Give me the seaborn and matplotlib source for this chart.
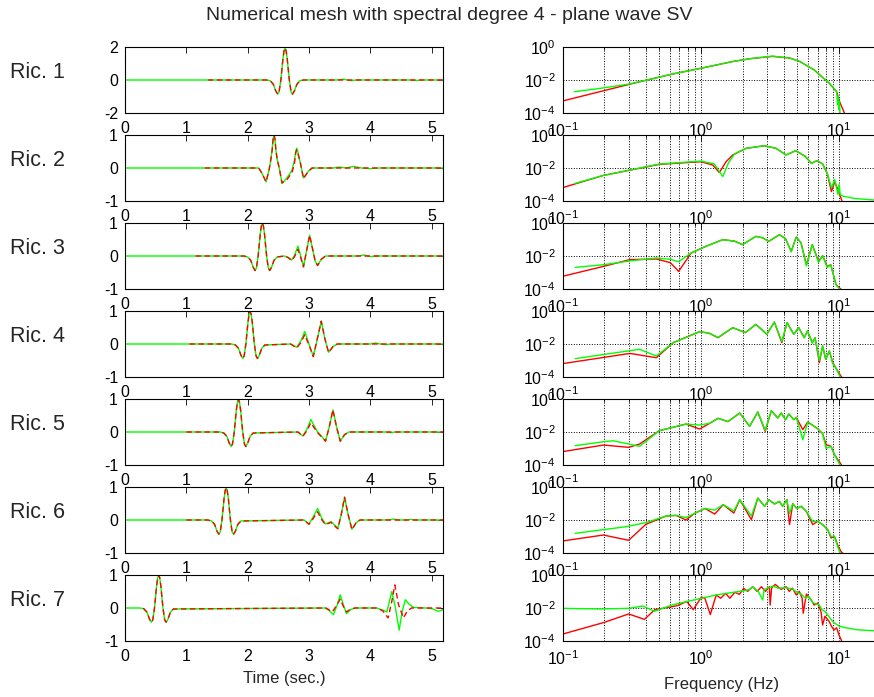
import numpy as np
import matplotlib
matplotlib.use("Agg")
import matplotlib.pyplot as plt
import seaborn as sns
from matplotlib.ticker import NullFormatter, FixedLocator, NullLocator

# ---------------- data: time histories (seconds, amplitude) ----------------
g1_t = [0, 2.31, 2.37, 2.418, 2.458, 2.49, 2.513, 2.541, 2.558, 2.575, 2.593, 2.61, 2.627, 2.645, 2.662, 2.679, 2.707, 2.73, 2.762, 2.803, 2.85, 2.91, 3.45, 3.56, 3.67, 3.78, 4.65, 4.75, 4.85, 5.185]
g1_v = [0, 0, -0.05, -0.26, -0.66, -0.86, -0.70, 0, 0.64, 1.28, 1.77, 1.94, 1.77, 1.28, 0.64, 0, -0.70, -0.86, -0.66, -0.26, -0.05, 0, 0, 0.05, -0.04, 0, 0, -0.03, 0, 0]
r1_t = [1.35, 2.31, 2.37, 2.418, 2.458, 2.49, 2.513, 2.541, 2.558, 2.575, 2.593, 2.61, 2.627, 2.645, 2.662, 2.679, 2.707, 2.73, 2.762, 2.803, 2.85, 2.91, 5.185]
r1_v = [0, 0, -0.05, -0.26, -0.66, -0.86, -0.70, 0, 0.64, 1.28, 1.77, 1.94, 1.77, 1.28, 0.64, 0, -0.70, -0.86, -0.66, -0.26, -0.05, 0, 0]

g2_t = [0, 2.18, 2.23, 2.30, 2.35, 2.38, 2.40, 2.415, 2.43, 2.445, 2.46, 2.48, 2.52, 2.56, 2.64, 2.72, 2.76, 2.785, 2.80, 2.815, 2.86, 2.91, 2.99, 3.05, 3.40, 3.49, 3.60, 3.73, 3.85, 4.00, 4.15, 5.185]
g2_v = [0, 0, -0.15, -0.42, -0.05, 0.28, 0.55, 0.88, 1.0, 0.88, 0.55, 0.28, -0.05, -0.47, -0.30, -0.08, 0.2, 0.52, 0.6, 0.52, 0.15, -0.30, -0.1, 0, 0, 0.03, 0, 0.05, 0, -0.02, 0, 0]
r2_t = [1.3, 2.18, 2.23, 2.30, 2.35, 2.38, 2.40, 2.415, 2.43, 2.445, 2.46, 2.48, 2.52, 2.56, 2.64, 2.72, 2.76, 2.785, 2.80, 2.815, 2.86, 2.91, 2.99, 3.05, 5.185]
r2_v = [0, 0, -0.15, -0.42, -0.05, 0.28, 0.55, 0.88, 1.0, 0.88, 0.55, 0.28, -0.05, -0.45, -0.35, -0.15, 0.1, 0.47, 0.55, 0.47, 0.15, -0.32, -0.1, 0, 0]

g3_t = [0, 1.94, 2.0, 2.05, 2.09, 2.12, 2.143, 2.171, 2.188, 2.205, 2.223, 2.24, 2.257, 2.275, 2.292, 2.309, 2.337, 2.36, 2.39, 2.43, 2.48, 2.60, 2.66, 2.72, 2.77, 2.82, 2.865, 2.91, 2.96, 3.01, 3.06, 3.10, 3.14, 3.20, 3.27, 3.80, 3.90, 4.00, 4.10, 5.185]
g3_v = [0, 0, -0.03, -0.13, -0.34, -0.44, -0.36, 0, 0.33, 0.66, 0.91, 1.0, 0.91, 0.66, 0.33, 0, -0.36, -0.44, -0.34, -0.13, -0.03, 0, -0.04, -0.12, 0.05, 0.30, 0.0, -0.32, 0.15, 0.63, 0.2, -0.15, -0.28, -0.1, 0, 0, 0.03, -0.02, 0, 0]
r3_t = [1.15, 1.94, 2.0, 2.05, 2.09, 2.12, 2.143, 2.171, 2.188, 2.205, 2.223, 2.24, 2.257, 2.275, 2.292, 2.309, 2.337, 2.36, 2.39, 2.43, 2.48, 2.60, 2.66, 2.72, 2.77, 2.82, 2.865, 2.91, 2.96, 3.01, 3.06, 3.10, 3.14, 3.20, 3.27, 5.185]
r3_v = [0, 0, -0.03, -0.13, -0.34, -0.44, -0.36, 0, 0.33, 0.66, 0.91, 1.0, 0.91, 0.66, 0.33, 0, -0.36, -0.44, -0.34, -0.13, -0.03, 0, -0.05, -0.14, 0.0, 0.20, -0.05, -0.33, 0.15, 0.63, 0.2, -0.15, -0.29, -0.1, 0, 0]

g4_t = [0, 1.74, 1.80, 1.85, 1.89, 1.92, 1.943, 1.971, 1.988, 2.005, 2.023, 2.04, 2.057, 2.075, 2.092, 2.109, 2.137, 2.16, 2.19, 2.23, 2.28, 2.70, 2.80, 2.87, 2.93, 3.00, 3.07, 3.135, 3.20, 3.26, 3.32, 3.39, 3.46, 4.00, 4.08, 4.16, 4.25, 4.33, 5.185]
g4_v = [0, 0, -0.03, -0.13, -0.34, -0.44, -0.36, 0, 0.33, 0.66, 0.90, 0.99, 0.90, 0.66, 0.33, 0, -0.36, -0.44, -0.34, -0.13, -0.03, 0, -0.1, 0.1, 0.38, 0.0, -0.37, 0.15, 0.69, 0.15, -0.25, -0.08, 0, 0, 0.03, 0, -0.02, 0, 0]
r4_t = [1.05, 1.74, 1.80, 1.85, 1.89, 1.92, 1.943, 1.971, 1.988, 2.005, 2.023, 2.04, 2.057, 2.075, 2.092, 2.109, 2.137, 2.16, 2.19, 2.23, 2.28, 2.70, 2.80, 2.87, 2.93, 3.00, 3.07, 3.135, 3.20, 3.26, 3.32, 3.39, 3.46, 5.185]
r4_v = [0, 0, -0.03, -0.13, -0.34, -0.44, -0.36, 0, 0.33, 0.66, 0.90, 0.99, 0.90, 0.66, 0.33, 0, -0.36, -0.44, -0.34, -0.13, -0.03, 0, -0.12, 0.05, 0.28, -0.03, -0.38, 0.15, 0.69, 0.15, -0.26, -0.08, 0, 0]

g5_t = [0, 1.55, 1.61, 1.66, 1.70, 1.73, 1.753, 1.781, 1.798, 1.815, 1.833, 1.85, 1.867, 1.885, 1.902, 1.919, 1.947, 1.97, 2.00, 2.04, 2.09, 2.82, 2.90, 2.97, 3.03, 3.13, 3.20, 3.27, 3.33, 3.39, 3.45, 3.51, 3.58, 3.65, 4.25, 4.33, 4.41, 5.185]
g5_v = [0, 0, -0.03, -0.13, -0.34, -0.44, -0.36, 0, 0.33, 0.66, 0.90, 0.99, 0.90, 0.66, 0.33, 0, -0.36, -0.44, -0.34, -0.13, -0.03, 0, -0.12, 0.1, 0.38, 0.03, -0.12, -0.27, 0.15, 0.67, 0.15, -0.27, -0.08, 0, 0, -0.02, 0, 0]
r5_t = [1.0, 1.55, 1.61, 1.66, 1.70, 1.73, 1.753, 1.781, 1.798, 1.815, 1.833, 1.85, 1.867, 1.885, 1.902, 1.919, 1.947, 1.97, 2.00, 2.04, 2.09, 2.82, 2.90, 2.97, 3.03, 3.13, 3.20, 3.27, 3.33, 3.39, 3.45, 3.51, 3.58, 3.65, 5.185]
r5_v = [0, 0, -0.03, -0.13, -0.34, -0.44, -0.36, 0, 0.33, 0.66, 0.90, 0.99, 0.90, 0.66, 0.33, 0, -0.36, -0.44, -0.34, -0.13, -0.03, 0, -0.13, 0.05, 0.28, 0.0, -0.14, -0.28, 0.15, 0.67, 0.15, -0.28, -0.08, 0, 0]

g6_t = [0, 1.35, 1.41, 1.46, 1.50, 1.53, 1.553, 1.581, 1.598, 1.615, 1.633, 1.65, 1.667, 1.685, 1.702, 1.719, 1.747, 1.77, 1.80, 1.84, 1.89, 2.92, 3.00, 3.07, 3.14, 3.21, 3.27, 3.36, 3.47, 3.53, 3.58, 3.64, 3.70, 3.77, 3.83, 4.30, 4.38, 4.46, 4.60, 4.66, 4.72, 5.185]
g6_v = [0, 0, -0.03, -0.13, -0.34, -0.43, -0.36, 0, 0.32, 0.65, 0.89, 0.98, 0.89, 0.65, 0.32, 0, -0.36, -0.43, -0.34, -0.13, -0.03, 0, -0.12, 0.1, 0.35, 0.05, -0.12, -0.05, -0.25, 0.2, 0.69, 0.15, -0.28, -0.08, 0, 0, 0.03, 0, 0, 0.02, 0, 0]
r6_t = [1.0, 1.35, 1.41, 1.46, 1.50, 1.53, 1.553, 1.581, 1.598, 1.615, 1.633, 1.65, 1.667, 1.685, 1.702, 1.719, 1.747, 1.77, 1.80, 1.84, 1.89, 2.92, 3.00, 3.07, 3.14, 3.21, 3.27, 3.36, 3.47, 3.53, 3.58, 3.64, 3.70, 3.77, 3.83, 5.185]
r6_v = [0, 0, -0.03, -0.13, -0.34, -0.43, -0.36, 0, 0.32, 0.65, 0.89, 0.98, 0.89, 0.65, 0.32, 0, -0.36, -0.43, -0.34, -0.13, -0.03, 0, -0.13, 0.05, 0.25, 0.0, -0.14, -0.07, -0.27, 0.2, 0.69, 0.15, -0.29, -0.08, 0, 0]

g7_t = [0, 0.25, 0.31, 0.36, 0.40, 0.43, 0.453, 0.481, 0.498, 0.515, 0.533, 0.55, 0.567, 0.585, 0.602, 0.619, 0.647, 0.67, 0.70, 0.74, 0.79, 3.26, 3.33, 3.40, 3.46, 3.51, 3.56, 3.61, 3.68, 3.75, 4.10, 4.21, 4.27, 4.35, 4.41, 4.47, 4.52, 4.57, 4.63, 4.70, 4.90, 5.00, 5.11, 5.185]
g7_v = [0, 0, -0.03, -0.13, -0.34, -0.43, -0.36, 0, 0.33, 0.66, 0.91, 1.0, 0.91, 0.66, 0.33, 0, -0.36, -0.43, -0.34, -0.13, -0.03, 0, -0.08, -0.2, 0.1, 0.4, 0.1, -0.17, -0.05, 0, 0, -0.07, -0.12, 0.5, 0.0, -0.67, -0.1, 0.25, 0.12, 0.02, 0, -0.02, -0.1, -0.05]
r7_t = [0.3, 0.31, 0.36, 0.40, 0.43, 0.453, 0.481, 0.498, 0.515, 0.533, 0.55, 0.567, 0.585, 0.602, 0.619, 0.647, 0.67, 0.70, 0.74, 0.79, 3.28, 3.38, 3.44, 3.51, 3.56, 3.61, 3.68, 3.75, 4.10, 4.20, 4.29, 4.35, 4.40, 4.46, 4.54, 4.60, 4.67, 5.185]
r7_v = [0, -0.03, -0.13, -0.34, -0.43, -0.36, 0, 0.33, 0.66, 0.91, 1.0, 0.91, 0.66, 0.33, 0, -0.36, -0.43, -0.34, -0.13, -0.03, 0, -0.12, 0.05, 0.27, 0.05, -0.12, -0.03, 0, 0, -0.08, -0.3, 0.2, 0.7, 0.1, -0.3, -0.1, 0, 0]

# ---------------- data: amplitude spectra (Hz, log10 amplitude) ----------------
sr1_f = [0.1, 0.2, 0.38, 0.63, 1.0, 1.7, 2.26, 3.3, 4.4, 5.2, 6.6, 8.5, 9.6, 10.1, 11.1]
sr1_a = [-3.27, -2.64, -2.06, -1.63, -1.29, -0.88, -0.71, -0.57, -0.67, -0.88, -1.39, -2.2, -2.71, -3.33, -4.14]
sg1_f = [0.121, 0.186, 0.3, 0.38, 0.63, 1.0, 1.7, 2.26, 3.3, 4.4, 5.2, 6.6, 8.5, 9.6, 9.75, 9.85, 9.95, 10.05, 10.15, 10.3]
sg1_a = [-2.71, -2.51, -2.25, -2.06, -1.63, -1.29, -0.88, -0.71, -0.55, -0.67, -0.88, -1.39, -2.2, -2.71, -3.5, -3.0, -3.8, -3.3, -4.0, -4.3]

sr2_f = [0.1, 0.197, 0.5, 1.0, 1.22, 1.36, 1.52, 1.70, 2.12, 2.87, 3.5, 4.13, 4.86, 5.7, 6.3, 6.9, 7.6, 8.2, 8.8, 9.3, 9.9, 10.6]
sr2_a = [-3.19, -2.45, -1.78, -1.62, -1.82, -2.28, -1.62, -1.21, -0.81, -0.65, -0.81, -1.21, -0.95, -1.3, -1.72, -1.56, -1.75, -2.32, -3.43, -2.83, -3.4, -4.1]
sg2_f = [0.123, 0.197, 0.5, 1.0, 1.25, 1.44, 1.58, 1.75, 2.12, 2.87, 3.5, 4.13, 4.86, 5.7, 6.3, 6.9, 7.6, 8.2, 8.8, 9.3, 9.8, 10.0, 10.2, 10.6, 13.0, 20.0]
sg2_a = [-2.93, -2.45, -1.76, -1.58, -1.75, -2.52, -1.7, -1.15, -0.81, -0.65, -0.81, -1.21, -0.95, -1.3, -1.72, -1.56, -1.75, -2.32, -3.2, -2.7, -3.6, -3.0, -3.64, -3.7, -3.85, -3.97]

sr3_f = [0.1, 0.197, 0.306, 0.476, 0.6, 0.69, 0.85, 1.09, 1.44, 1.75, 2.0, 2.5, 2.8, 3.1, 3.7, 4.1, 4.5, 4.9, 5.3, 5.8, 6.4, 7.1, 7.6, 8.2, 8.7, 9.5, 10.6]
sr3_a = [-3.23, -2.63, -2.22, -2.18, -2.4, -2.93, -1.82, -1.41, -1.01, -1.1, -1.31, -0.81, -0.9, -1.11, -0.71, -0.95, -1.72, -0.85, -1.2, -2.53, -1.31, -2.32, -1.98, -2.63, -2.53, -3.74, -4.1]
sg3_f = [0.123, 0.197, 0.306, 0.476, 0.6, 0.69, 0.85, 1.09, 1.44, 1.75, 2.0, 2.5, 2.8, 3.1, 3.7, 4.1, 4.5, 4.9, 5.3, 5.8, 6.4, 7.1, 7.6, 8.2, 8.7, 9.5, 10.3]
sg3_a = [-2.69, -2.53, -2.3, -2.12, -2.2, -2.35, -1.82, -1.41, -1.01, -1.1, -1.31, -0.81, -0.9, -1.11, -0.71, -0.95, -1.75, -0.85, -1.2, -2.6, -1.31, -2.4, -1.98, -2.7, -2.53, -3.74, -4.1]

sr4_f = [0.1, 0.306, 0.476, 0.63, 0.98, 1.15, 1.33, 1.7, 2.1, 2.5, 3.0, 3.4, 3.85, 4.2, 4.7, 5.1, 5.6, 5.9, 6.4, 6.7, 7.2, 7.6, 8.0, 8.5, 9.0, 9.6, 10.6]
sr4_a = [-3.19, -2.57, -2.83, -1.92, -1.25, -1.35, -1.62, -1.01, -1.31, -0.81, -1.41, -0.67, -1.92, -0.71, -1.41, -1.01, -1.62, -1.21, -1.92, -1.62, -3.13, -2.12, -2.93, -2.42, -3.13, -3.54, -4.1]
sg4_f = [0.123, 0.36, 0.476, 0.63, 0.98, 1.15, 1.33, 1.7, 2.1, 2.5, 3.0, 3.4, 3.85, 4.2, 4.7, 5.1, 5.6, 5.9, 6.4, 6.7, 7.2, 7.6, 8.0, 8.5, 9.0, 9.6, 10.3]
sg4_a = [-2.89, -2.32, -2.73, -1.92, -1.25, -1.35, -1.6, -1.01, -1.31, -0.81, -1.41, -0.67, -1.85, -0.71, -1.41, -1.01, -1.62, -1.21, -1.95, -1.62, -3.0, -2.12, -2.93, -2.42, -3.2, -3.54, -4.1]

sr5_f = [0.1, 0.197, 0.30, 0.36, 0.5, 0.78, 0.98, 1.16, 1.33, 1.57, 1.91, 2.25, 2.58, 2.92, 3.23, 3.6, 3.81, 4.1, 4.33, 4.7, 4.9, 5.46, 5.93, 6.45, 7.0, 7.6, 8.05, 8.75, 9.25, 10.0, 10.6]
sr5_a = [-3.19, -2.79, -2.93, -2.73, -1.92, -1.52, -1.82, -1.47, -1.17, -1.37, -0.85, -1.66, -0.79, -1.96, -0.71, -1.15, -0.85, -1.25, -0.91, -1.25, -1.11, -1.86, -1.39, -1.6, -1.8, -2.1, -2.77, -2.87, -3.37, -3.78, -4.1]
sg5_f = [0.123, 0.197, 0.232, 0.36, 0.5, 0.78, 0.98, 1.16, 1.33, 1.57, 1.91, 2.25, 2.58, 2.92, 3.23, 3.6, 3.81, 4.1, 4.33, 4.7, 4.9, 5.46, 5.93, 6.45, 7.0, 7.6, 8.05, 8.75, 9.25, 10.0, 10.3]
sg5_a = [-2.83, -2.59, -2.53, -2.87, -1.92, -1.52, -1.58, -1.47, -1.17, -1.37, -0.85, -1.66, -0.79, -1.9, -0.71, -1.15, -0.85, -1.25, -0.91, -1.25, -1.11, -2.46, -1.39, -1.6, -1.8, -2.1, -3.0, -2.87, -3.37, -3.9, -4.1]

sr6_f = [0.1, 0.197, 0.30, 0.40, 0.56, 0.66, 0.78, 0.9, 1.07, 1.26, 1.45, 1.73, 1.91, 2.32, 2.58, 2.89, 3.1, 3.41, 3.7, 3.9, 4.19, 4.38, 4.62, 4.93, 5.32, 5.78, 6.45, 7.0, 7.6, 8.28, 8.75, 9.25, 9.75, 10.3, 10.9]
sr6_a = [-3.27, -2.91, -3.23, -2.26, -1.76, -1.72, -2.0, -1.6, -1.3, -1.64, -1.07, -1.58, -0.77, -1.98, -0.67, -1.17, -0.77, -1.03, -0.87, -1.17, -0.77, -2.28, -1.01, -1.3, -1.17, -1.47, -2.28, -2.08, -2.28, -2.59, -3.09, -2.99, -3.5, -3.9, -4.1]
sg6_f = [0.123, 0.29, 0.40, 0.56, 0.66, 0.78, 0.9, 1.07, 1.26, 1.45, 1.73, 1.91, 2.32, 2.58, 2.89, 3.1, 3.41, 3.7, 3.9, 4.19, 4.38, 4.62, 4.93, 5.32, 5.78, 6.45, 7.0, 7.6, 8.28, 8.75, 9.25, 9.75, 10.3]
sg6_a = [-2.81, -2.4, -2.16, -1.76, -1.72, -1.85, -1.6, -1.3, -1.4, -1.07, -1.45, -0.77, -1.75, -0.67, -1.17, -0.77, -1.03, -0.87, -1.17, -0.77, -1.6, -1.01, -1.3, -1.17, -1.47, -2.1, -2.08, -2.28, -2.59, -3.0, -2.99, -3.6, -4.1]

sr7_f = [0.1, 0.2, 0.3, 0.39, 0.464, 0.6, 0.68, 0.79, 0.88, 1.01, 1.07, 1.17, 1.29, 1.39, 1.51, 1.62, 1.76, 1.9, 2.04, 2.18, 2.37, 2.55, 2.74, 2.93, 3.13, 3.17, 3.25, 3.45, 3.81, 4.14, 4.35, 4.6, 4.9, 5.15, 5.4, 5.5, 5.8, 6.28, 6.6, 7.0, 7.4, 7.6, 7.9, 8.5, 8.8, 9.2, 9.6, 10.0, 10.7]
sr7_a = [-3.58, -2.87, -2.36, -2.69, -2.1, -1.94, -1.85, -1.6, -2.1, -1.33, -1.42, -2.4, -1.21, -1.41, -1.11, -1.41, -1.05, -1.17, -0.81, -0.99, -0.71, -0.99, -0.71, -0.99, -0.71, -1.82, -0.78, -0.57, -0.87, -0.71, -0.99, -0.8, -1.21, -0.99, -1.41, -2.32, -1.15, -1.51, -1.82, -1.7, -2.23, -3.03, -2.5, -2.83, -3.1, -3.33, -3.2, -3.65, -4.2]
sg7_f = [0.1, 0.186, 0.3, 0.38, 0.46, 0.63, 0.96, 1.29, 1.72, 2.24, 2.37, 2.6, 2.8, 2.87, 3.13, 3.3, 3.45, 3.6, 4.14, 4.6, 5.0, 5.35, 5.7, 6.0, 6.45, 6.8, 7.2, 7.5, 7.9, 8.4, 9.0, 9.6, 10.0, 11.2, 13.9, 20.0]
sg7_a = [-2.02, -2.06, -2.02, -1.88, -2.2, -1.8, -1.45, -1.21, -1.05, -0.89, -0.72, -0.99, -1.51, -0.87, -0.77, -0.67, -0.72, -0.8, -0.77, -0.85, -1.07, -1.17, -1.41, -1.3, -1.67, -1.75, -1.82, -2.1, -2.2, -2.5, -2.83, -3.0, -3.1, -3.2, -3.33, -3.4]

row_labels = ["Ric. 1", "Ric. 2", "Ric. 3", "Ric. 4", "Ric. 5", "Ric. 6", "Ric. 7"]
time_green = [(g1_t, g1_v), (g2_t, g2_v), (g3_t, g3_v), (g4_t, g4_v), (g5_t, g5_v), (g6_t, g6_v), (g7_t, g7_v)]
time_red = [(r1_t, r1_v), (r2_t, r2_v), (r3_t, r3_v), (r4_t, r4_v), (r5_t, r5_v), (r6_t, r6_v), (r7_t, r7_v)]
spec_red = [(sr1_f, sr1_a), (sr2_f, sr2_a), (sr3_f, sr3_a), (sr4_f, sr4_a), (sr5_f, sr5_a), (sr6_f, sr6_a), (sr7_f, sr7_a)]
spec_green = [(sg1_f, sg1_a), (sg2_f, sg2_a), (sg3_f, sg3_a), (sg4_f, sg4_a), (sg5_f, sg5_a), (sg6_f, sg6_a), (sg7_f, sg7_a)]

# ---------------- style ----------------
sns.set_theme(style="white")
plt.rcParams["font.family"] = ["Liberation Sans", "DejaVu Sans"]
plt.rcParams["axes.unicode_minus"] = False
plt.rcParams["axes.edgecolor"] = "black"
plt.rcParams["axes.linewidth"] = 0.8

W, H = 874, 697
fig = plt.figure(figsize=(W / 100, H / 100), dpi=100)
fig.patch.set_facecolor("white")

RED = "#ff0000"
GREEN = "#00ff00"
TICK_FS = 11.5

def style_axes(ax):
    ax.tick_params(axis="both", which="both", direction="in", top=True, right=True,
                   colors="black", labelsize=TICK_FS, width=0.6)
    ax.tick_params(axis="both", which="major", length=4)
    ax.tick_params(axis="both", which="minor", length=2.5)
    ax.tick_params(axis="x", pad=6)
    ax.tick_params(axis="y", pad=5)
    for s in ax.spines.values():
        s.set_color("black")
        s.set_linewidth(0.8)
    ax.set_xlabel("")
    ax.set_ylabel("")

for i in range(7):
    top_px = 47 + 88 * i
    bottom = 1 - (top_px + 66) / H
    h = 66 / H
    # ---- time history ----
    axl = fig.add_axes([125 / W, bottom, 318 / W, h])
    gt, gv = time_green[i]
    rt, rv = time_red[i]
    sns.lineplot(x=gt, y=gv, ax=axl, color=GREEN, linewidth=1.0, estimator=None, sort=False)
    sns.lineplot(x=rt, y=rv, ax=axl, color=RED, linewidth=1.0, estimator=None, sort=False,
                 linestyle=(0, (4, 2.5)))
    axl.set_xlim(0, 5.185)
    if i == 0:
        axl.set_ylim(-2, 2)
        axl.set_yticks([-2, 0, 2])
    else:
        axl.set_ylim(-1, 1)
        axl.set_yticks([-1, 0, 1])
    axl.set_xticks([0, 1, 2, 3, 4, 5])
    style_axes(axl)

    # ---- spectrum ----
    axr = fig.add_axes([562.7 / W, bottom, 318 / W, h])
    rf, ra = spec_red[i]
    gf, ga = spec_green[i]
    sns.lineplot(x=rf, y=10.0 ** np.array(ra), ax=axr, color=RED, linewidth=1.0, estimator=None, sort=False)
    sns.lineplot(x=gf, y=10.0 ** np.array(ga), ax=axr, color=GREEN, linewidth=1.0, estimator=None, sort=False)
    axr.set_xscale("log")
    axr.set_yscale("log")
    axr.set_xlim(0.1, 20)
    axr.set_ylim(1e-4, 1)
    axr.yaxis.set_major_locator(FixedLocator([1e-4, 1e-2, 1]))
    axr.yaxis.set_minor_locator(NullLocator())
    axr.xaxis.set_minor_formatter(NullFormatter())
    axr.grid(True, which="both", axis="x", linestyle=":", color="black", linewidth=0.7)
    axr.grid(True, which="major", axis="y", linestyle=":", color="black", linewidth=0.7)
    axr.set_axisbelow(True)
    style_axes(axr)

    fig.text(10 / W, 1 - (top_px + 26) / H, row_labels[i], ha="left", va="center", fontsize=15.5)

fig.text(449.5 / W, 1 - 16 / H, "Numerical mesh with spectral degree 4 - plane wave SV",
         ha="center", va="center", fontsize=14)
fig.text(284 / W, 1 - 678 / H, "Time (sec.)", ha="center", va="center", fontsize=12)
fig.text(721.7 / W, 1 - 685 / H, "Frequency (Hz)", ha="center", va="center", fontsize=12)

fig.savefig("out.png", dpi=100, facecolor="white")
